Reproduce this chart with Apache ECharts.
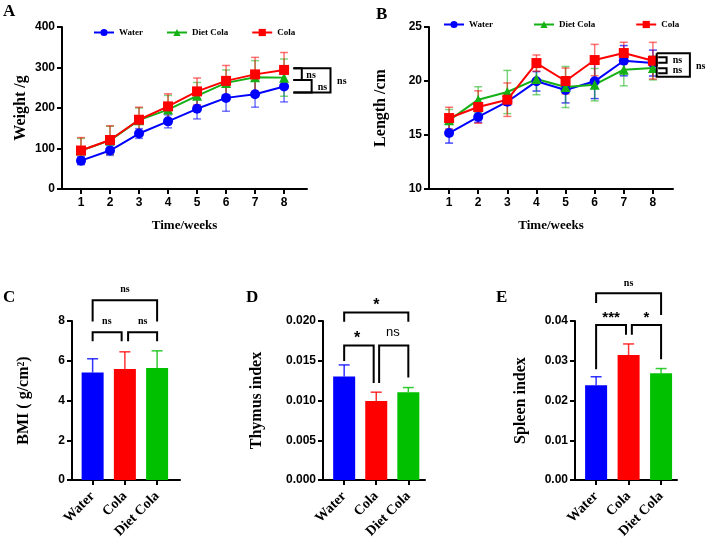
<!DOCTYPE html>
<html>
<head>
<meta charset="utf-8">
<title>Body weight, length and organ index</title>
<style>
  body { margin: 0; padding: 0; background: #fff; }
  #main { width: 708px; height: 541px; }
</style>
</head>
<body>
<div id="main"></div>
<script src="https://cdn.jsdelivr.net/npm/echarts@6/dist/echarts.min.js"></script>
<script>
var weeks = [1, 2, 3, 4, 5, 6, 7, 8];

// A: weight (g), mean / sd
var weightWater = [70, 95, 137, 167, 198, 225, 234, 253];
var weightWaterSd = [10, 12, 12, 16, 25, 33, 32, 38];
var weightDiet = [95, 120, 170, 196, 230, 262, 276, 275];
var weightDietSd = [30, 35, 30, 35, 33, 32, 41, 46];
var weightCola = [95, 121, 171, 204, 241, 267, 283, 294];
var weightColaSd = [32, 35, 31, 31, 33, 38, 42, 43];

// B: length (cm)
var lenWater = [15.18, 16.67, 18.08, 19.97, 19.17, 19.97, 21.88, 21.66];
var lenWaterSd = [0.93, 0.5, 0.3, 0.9, 1.2, 1.6, 1.4, 1.2];
var lenDiet = [16.36, 18.27, 18.98, 20.18, 19.44, 19.66, 21.05, 21.2];
var lenDietSd = [1.0, 1.2, 2.0, 1.45, 1.9, 1.5, 1.5, 1.1];
var lenCola = [16.57, 17.59, 18.27, 21.66, 20.0, 21.94, 22.59, 21.88];
var lenColaSd = [1.0, 1.5, 1.55, 0.75, 1.2, 1.45, 1.0, 1.7];

// C-E: groups
var groups = ['Water', 'Cola', 'Diet Cola'];
var groupPos = [1, 2, 3];
var bmi = [5.41, 5.58, 5.63];
var bmiSd = [0.69, 0.87, 0.87];
var thymus = [0.01303, 0.00994, 0.01105];
var thymusSd = [0.00145, 0.00111, 0.00058];
var spleen = [0.02384, 0.03142, 0.02689];
var spleenSd = [0.00214, 0.00281, 0.00115];

// significance brackets (data units) and their labels
var bracketsA = [
  [[8.32, 298], [9.6, 298], [9.6, 238], [8.32, 238]],
  [[8.32, 298], [8.61, 298], [8.61, 269], [8.32, 269]],
  [[8.32, 269], [8.95, 269], [8.95, 238], [8.32, 238]]
];
var marksA = [[8.93, 281, 'ns'], [9.32, 252, 'ns'], [9.99, 265, 'ns']];
var bracketsB = [
  [[8.13, 22.57], [9.27, 22.57], [9.27, 20.4], [8.13, 20.4], [8.13, 22.57]],
  [[8.18, 22.2], [8.47, 22.2], [8.47, 21.7], [8.18, 21.7]],
  [[8.18, 21.18], [8.47, 21.18], [8.47, 20.71], [8.18, 20.71]]
];
var marksB = [[8.84, 21.9, 'ns'], [8.84, 20.95, 'ns'], [9.64, 21.39, 'ns']];
var bracketsC = [
  [[1, 6.98], [1, 7.44], [1.9, 7.44], [1.9, 6.98]],
  [[2.1, 6.98], [2.1, 7.44], [3, 7.44], [3, 6.98]],
  [[1, 7.97], [1, 9.04], [3, 9.04], [3, 7.97]]
];
var marksC = [[1.44, 8.0, 'ns'], [2.55, 8.0, 'ns'], [2, 9.57, 'ns']];
var bracketsD = [
  [[1, 0.01497], [1, 0.01691], [1.92, 0.01691], [1.92, 0.01221]],
  [[2.09, 0.01221], [2.09, 0.01691], [3, 0.01691], [3, 0.01291]],
  [[1, 0.01992], [1, 0.02107], [3, 0.02107], [3, 0.01992]]
];
var marksD = [[1.4, 0.0178, '*'], [2.52, 0.01851, 'ns'], [2, 0.0219, '*']];
var bracketsE = [
  [[1, 0.02788], [1, 0.03901], [1.92, 0.03901], [1.92, 0.03654]],
  [[2.1, 0.03654], [2.1, 0.03901], [3, 0.03901], [3, 0.03035]],
  [[1, 0.04453], [1, 0.047], [3, 0.047], [3, 0.04148]]
];
var marksE = [[1.46, 0.0408, '***'], [2.55, 0.0408, '*'], [2, 0.0494, 'ns']];

var sans = '"Liberation Sans", Arial, sans-serif';
var serif = '"Liberation Serif", "Times New Roman", serif';
var blue = '#0000ff', red = '#ff0000', green = '#14b014', barGreen = '#00c000';

var chart = echarts.init(document.getElementById('main'));

function pairs(xs, ys) {
  return xs.map(function (x, i) { return [x, ys[i]]; });
}

function xAxisCfg(idx, min, max, ticks, labelFmt, name, rotate) {
  return {
    gridIndex: idx, type: 'value', min: min, max: max,
    name: name, nameLocation: 'middle', nameGap: 30,
    nameTextStyle: { fontFamily: serif, fontWeight: 'bold', fontSize: 13, color: '#000' },
    axisLine: { lineStyle: { color: '#000', width: 2 } },
    axisTick: { show: true, length: 5, customValues: ticks, lineStyle: { width: 2, color: '#000' } },
    axisLabel: rotate ? {
      customValues: ticks, rotate: 45, margin: 14, formatter: labelFmt,
      fontFamily: serif, fontWeight: 'bold', fontSize: 14, color: '#000'
    } : {
      customValues: ticks, margin: 8, formatter: labelFmt,
      fontFamily: sans, fontWeight: 'bold', fontSize: 12, color: '#000'
    },
    splitLine: { show: false }
  };
}

function yAxisCfg(idx, min, max, interval, digits, name, gap) {
  return {
    gridIndex: idx, type: 'value', min: min, max: max, interval: interval,
    name: name, nameLocation: 'middle', nameGap: gap, nameRotate: 90,
    nameTextStyle: { fontFamily: serif, fontWeight: 'bold', fontSize: 16, color: '#000' },
    axisLine: { show: true, lineStyle: { color: '#000', width: 2 } },
    axisTick: { show: true, length: 5, lineStyle: { width: 2, color: '#000' } },
    axisLabel: {
      margin: 7, fontFamily: sans, fontWeight: 'bold', fontSize: 12, color: '#000',
      formatter: function (v) { return v.toFixed(digits); }
    },
    splitLine: { show: false }
  };
}

function lineSeries(idx, name, data, color, symbol, size) {
  return {
    type: 'line', name: name, xAxisIndex: idx, yAxisIndex: idx,
    data: pairs(weeks, data), symbol: symbol, symbolSize: size,
    itemStyle: { color: color }, lineStyle: { color: color, width: 2 },
    z: 3
  };
}

function errorSeries(idx, xs, means, sds, color, capW, upOnly, opacity) {
  return {
    type: 'custom', name: 'err', xAxisIndex: idx, yAxisIndex: idx, clip: false, silent: true,
    data: xs.map(function (x, i) { return [x, means[i], sds[i]]; }),
    encode: { x: 0, y: 1 },
    z: upOnly ? 4 : 1,
    renderItem: function (params, api) {
      var x = api.value(0), m = api.value(1), s = api.value(2);
      var lo = api.coord([x, upOnly ? m : m - s]);
      var hi = api.coord([x, m + s]);
      var st = { stroke: color, lineWidth: 1.5, opacity: opacity };
      var kids = [
        { type: 'line', shape: { x1: hi[0], y1: hi[1], x2: lo[0], y2: lo[1] }, style: st },
        { type: 'line', shape: { x1: hi[0] - capW / 2, y1: hi[1], x2: hi[0] + capW / 2, y2: hi[1] }, style: st }
      ];
      if (!upOnly) {
        kids.push({ type: 'line', shape: { x1: lo[0] - capW / 2, y1: lo[1], x2: lo[0] + capW / 2, y2: lo[1] }, style: st });
      }
      return { type: 'group', children: kids };
    }
  };
}

function bracketSeries(idx, lines) {
  return {
    type: 'custom', name: 'bracket', xAxisIndex: idx, yAxisIndex: idx, clip: false, silent: true,
    data: lines.map(function (l) { return [l[0][0], l[0][1]]; }),
    encode: { x: 0, y: 1 },
    z: 5,
    renderItem: function (params, api) {
      var pts = lines[params.dataIndex].map(function (p) { return api.coord(p); });
      return { type: 'polyline', shape: { points: pts }, style: { stroke: '#000', lineWidth: 2, fill: null } };
    }
  };
}

function markSeries(idx, marks, family, weight, size, starSize) {
  return {
    type: 'custom', name: 'mark', xAxisIndex: idx, yAxisIndex: idx, clip: false, silent: true,
    data: marks.map(function (m) { return [m[0], m[1]]; }),
    encode: { x: 0, y: 1 },
    z: 5,
    renderItem: function (params, api) {
      var m = marks[params.dataIndex];
      var p = api.coord([m[0], m[1]]);
      var star = m[2].charAt(0) === '*';
      return {
        type: 'text', x: p[0], y: p[1],
        style: {
          text: m[2], fill: '#000', align: 'center', verticalAlign: 'middle',
          fontFamily: star ? sans : family, fontWeight: star ? 'bold' : weight,
          fontSize: star ? starSize : size
        }
      };
    }
  };
}

function barSeries(idx, values, barColors) {
  return {
    type: 'bar', name: 'bar' + idx, xAxisIndex: idx, yAxisIndex: idx,
    data: groupPos.map(function (x, i) {
      return { value: [x, values[i]], itemStyle: { color: barColors[i] } };
    }),
    barWidth: 22, z: 2
  };
}

function groupLabel(v) {
  var i = Math.round(v) - 1;
  return groups[i] || '';
}

var barColors = [blue, red, barGreen];
var errColors = [blue, red, barGreen];

function barErrors(idx, values, sds) {
  return groupPos.map(function (x, i) {
    return errorSeries(idx, [x], [values[i]], [sds[i]], errColors[i], 11, true, 0.8);
  });
}

var titleStyle = { fontFamily: serif, fontWeight: 'bold', fontSize: 17, color: '#000' };
var legendText = { fontFamily: serif, fontWeight: 'bold', fontSize: 9, color: '#000' };

var series = [
  // A
  errorSeries(0, weeks, weightWater, weightWaterSd, blue, 8, false, 0.55),
  errorSeries(0, weeks, weightDiet, weightDietSd, green, 8, false, 0.55),
  errorSeries(0, weeks, weightCola, weightColaSd, red, 8, false, 0.55),
  lineSeries(0, 'Water', weightWater, blue, 'circle', 10),
  lineSeries(0, 'Diet Cola', weightDiet, green, 'triangle', 10),
  lineSeries(0, 'Cola', weightCola, red, 'rect', 10),
  bracketSeries(0, bracketsA),
  markSeries(0, marksA, serif, 'bold', 10, 10),
  // B
  errorSeries(1, weeks, lenWater, lenWaterSd, blue, 8, false, 0.7),
  errorSeries(1, weeks, lenDiet, lenDietSd, green, 8, false, 0.55),
  errorSeries(1, weeks, lenCola, lenColaSd, red, 8, false, 0.55),
  lineSeries(1, 'Water', lenWater, blue, 'circle', 10),
  lineSeries(1, 'Diet Cola', lenDiet, green, 'triangle', 10),
  lineSeries(1, 'Cola', lenCola, red, 'rect', 10),
  bracketSeries(1, bracketsB),
  markSeries(1, marksB, serif, 'bold', 10, 10),
  // C
  barSeries(2, bmi, barColors),
  bracketSeries(2, bracketsC),
  markSeries(2, marksC, serif, 'bold', 10, 14),
  // D
  barSeries(3, thymus, barColors),
  bracketSeries(3, bracketsD),
  markSeries(3, marksD, sans, 'normal', 13, 16),
  // E
  barSeries(4, spleen, barColors),
  bracketSeries(4, bracketsE),
  markSeries(4, marksE, serif, 'bold', 10, 15)
].concat(barErrors(2, bmi, bmiSd), barErrors(3, thymus, thymusSd), barErrors(4, spleen, spleenSd));

var option = {
  backgroundColor: '#fff',
  animation: false,
  title: [
    { text: 'A', left: 3, top: 3, padding: 0, textStyle: titleStyle },
    { text: 'B', left: 376, top: 6, padding: 0, textStyle: titleStyle },
    { text: 'C', left: 3, top: 289, padding: 0, textStyle: titleStyle },
    { text: 'D', left: 246, top: 289, padding: 0, textStyle: titleStyle },
    { text: 'E', left: 496, top: 289, padding: 0, textStyle: titleStyle }
  ],
  legend: [
    {
      left: 93, top: 28, itemWidth: 20, itemHeight: 9, itemGap: 23, padding: 0,
      selectedMode: false, textStyle: legendText, data: ['Water', 'Diet Cola', 'Cola']
    },
    {
      left: 443, top: 20, itemWidth: 20, itemHeight: 9, itemGap: 40, padding: 0,
      selectedMode: false, textStyle: legendText, data: ['Water', 'Diet Cola', 'Cola']
    }
  ],
  grid: [
    { left: 62, top: 27, width: 245, height: 162 },
    { left: 429, top: 27, width: 244, height: 162 },
    { left: 72, top: 321, width: 108, height: 162 },
    { left: 323, top: 321, width: 102, height: 162 },
    { left: 575, top: 321, width: 102, height: 162 }
  ],
  xAxis: [
    xAxisCfg(0, 0.345, 8.79, weeks, function (v) { return String(v); }, 'Time/weeks', false),
    xAxisCfg(1, 0.31, 8.69, weeks, function (v) { return String(v); }, 'Time/weeks', false),
    xAxisCfg(2, 0.36, 3.71, groupPos, groupLabel, '', true),
    xAxisCfg(3, 0.34, 3.52, groupPos, groupLabel, '', true),
    xAxisCfg(4, 0.35, 3.49, groupPos, groupLabel, '', true)
  ],
  yAxis: [
    yAxisCfg(0, 0, 400, 100, 0, 'Weight /g', 33),
    yAxisCfg(1, 10, 25, 5, 0, 'Length /cm', 40),
    yAxisCfg(2, 0, 8, 2, 0, 'BMI ( g/cm\u00b2)', 40),
    yAxisCfg(3, 0, 0.02, 0.005, 3, 'Thymus index', 58),
    yAxisCfg(4, 0, 0.04, 0.01, 2, 'Spleen index', 46)
  ],
  series: series
};

chart.setOption(option);
window.addEventListener('resize', function () { chart.resize(); });
</script>
</body>
</html>
